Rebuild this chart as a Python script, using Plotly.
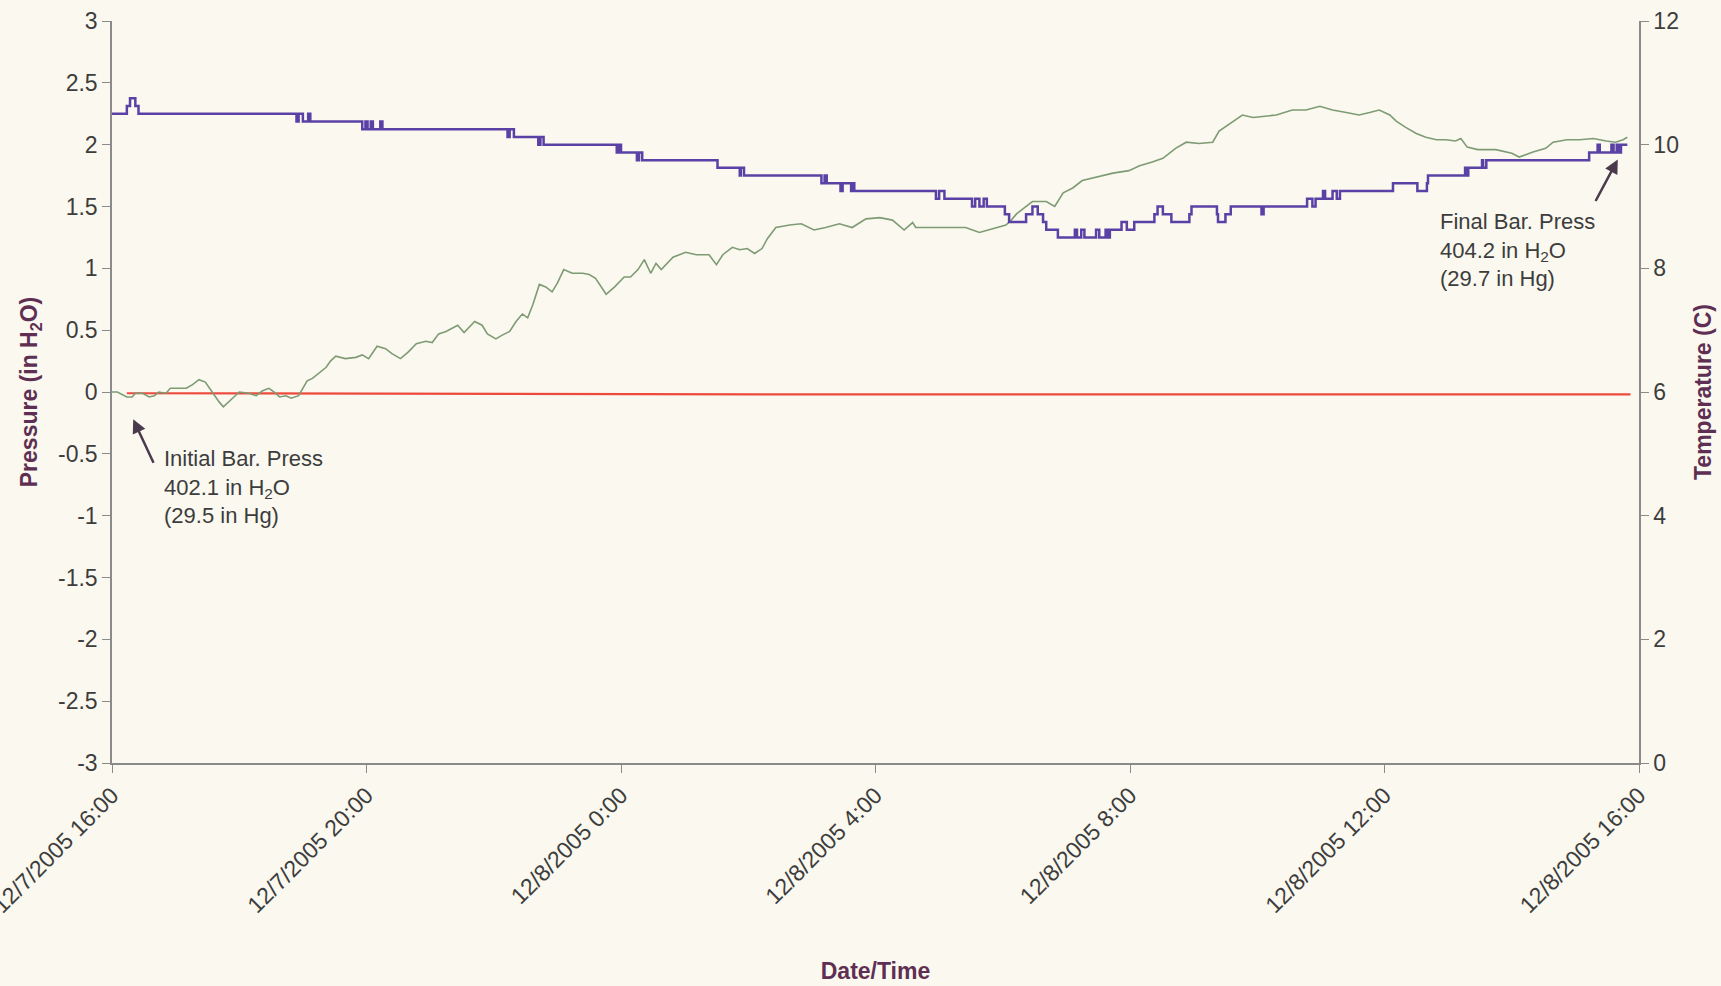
import pandas as pd
import plotly.graph_objects as go

START = pd.Timestamp("2005-12-07 16:00")

# Barometric pressure change from the start of the run (in H2O); minutes since start
baro_minutes = [0, 5, 14, 19, 22, 29, 35, 40, 44, 51, 55, 70, 76, 82, 88, 95, 101, 105, 110, 115,
                120, 129, 136, 142, 148, 153, 158, 164, 169, 176, 180, 184, 189, 195, 202, 206, 211,
                220, 230, 236, 242, 250, 258, 264, 272, 279, 287, 296, 302, 308, 315, 326, 332, 342,
                349, 354, 362, 368, 375, 381, 387, 392, 397, 403, 409, 415, 420, 426, 434, 444, 450,
                456, 461, 466, 474, 483, 489, 496, 502, 508, 513, 518, 529, 541, 551, 563, 570, 576,
                585, 592, 599, 606, 613, 618, 626, 639, 650, 662, 673, 686, 698, 711, 724, 736, 747,
                755, 758, 774, 790, 805, 818, 830, 843, 848, 853, 859, 868, 881, 889, 897, 906, 915,
                931, 944, 959, 969, 981, 991, 1003, 1013, 1025, 1038, 1044, 1057, 1066, 1076, 1088,
                1098, 1113, 1126, 1139, 1151, 1164, 1176, 1186, 1195, 1205, 1211, 1220, 1230, 1239,
                1249, 1258, 1267, 1272, 1278, 1288, 1305, 1320, 1327, 1340, 1352, 1359, 1372, 1384,
                1397, 1409, 1418, 1425, 1429]
baro_change = [0.00, 0.00, -0.04, -0.04, -0.01, -0.01, -0.04, -0.03, 0.00, -0.01, 0.03, 0.03, 0.06,
               0.10, 0.08, -0.01, -0.08, -0.12, -0.08, -0.04, 0.00, -0.01, -0.03, 0.01, 0.03, 0.00,
               -0.04, -0.03, -0.05, -0.03, 0.03, 0.09, 0.11, 0.15, 0.20, 0.25, 0.29, 0.27, 0.28, 0.30,
               0.27, 0.37, 0.35, 0.31, 0.27, 0.32, 0.39, 0.41, 0.40, 0.47, 0.49, 0.54, 0.48, 0.57,
               0.54, 0.47, 0.43, 0.46, 0.49, 0.57, 0.63, 0.60, 0.71, 0.87, 0.85, 0.81, 0.88, 0.99,
               0.96, 0.96, 0.95, 0.92, 0.85, 0.79, 0.85, 0.93, 0.93, 0.99, 1.07, 0.96, 1.04, 0.99,
               1.09, 1.13, 1.11, 1.11, 1.03, 1.11, 1.17, 1.15, 1.16, 1.12, 1.16, 1.24, 1.33, 1.35,
               1.36, 1.31, 1.33, 1.36, 1.33, 1.40, 1.41, 1.39, 1.31, 1.37, 1.33, 1.33, 1.33, 1.33,
               1.29, 1.32, 1.35, 1.39, 1.44, 1.48, 1.54, 1.54, 1.50, 1.61, 1.65, 1.71, 1.74, 1.77,
               1.79, 1.83, 1.86, 1.89, 1.97, 2.02, 2.01, 2.02, 2.11, 2.19, 2.24, 2.22, 2.23, 2.24,
               2.28, 2.28, 2.31, 2.28, 2.26, 2.24, 2.26, 2.28, 2.24, 2.19, 2.14, 2.09, 2.06, 2.04,
               2.04, 2.03, 2.05, 1.98, 1.96, 1.96, 1.93, 1.90, 1.94, 1.97, 2.02, 2.04, 2.04, 2.05,
               2.03, 2.02, 2.04, 2.06]

# Differential pressure across the test section (in H2O)
dp_minutes = [14, 240, 480, 720, 960, 1200, 1432]
dp_values = [-0.01, -0.015, -0.02, -0.02, -0.02, -0.02, -0.02]

# Temperature (C), logged in 1/8 degree steps
temp_minutes = [0, 14, 17, 22, 25, 174, 176, 180, 185, 187, 236, 239, 241, 244, 246, 253, 255,
                373, 375, 379, 402, 404, 407, 476, 478, 480, 495, 497, 500, 571, 592, 593, 596,
                669, 672, 674, 687, 689, 697, 698, 700, 777, 780, 785, 811, 814, 818, 822, 825,
                842, 846, 862, 868, 873, 878, 881, 892, 908, 910, 914, 917, 928, 931, 937, 939,
                941, 952, 957, 964, 983, 986, 991, 999, 1016, 1018, 1042, 1043, 1050, 1055, 1084,
                1086, 1127, 1132, 1135, 1142, 1144, 1151, 1155, 1158, 1208, 1231, 1240, 1241, 1276,
                1277, 1279, 1292, 1293, 1296, 1393, 1401, 1403, 1414, 1416, 1419, 1421, 1423, 1429]
temp_c = [10.5, 10.625, 10.75, 10.625, 10.5, 10.375, 10.5, 10.375, 10.5, 10.375, 10.25, 10.375,
          10.25, 10.375, 10.25, 10.375, 10.25, 10.125, 10.25, 10.125, 10.0, 10.125, 10.0, 9.875,
          10.0, 9.875, 9.75, 9.875, 9.75, 9.625, 9.5, 9.625, 9.5, 9.375, 9.5, 9.375, 9.25, 9.375,
          9.25, 9.375, 9.25, 9.125, 9.25, 9.125, 9.0, 9.125, 9.0, 9.125, 9.0, 8.875, 8.75, 8.875,
          9.0, 8.875, 8.75, 8.625, 8.5, 8.625, 8.5, 8.625, 8.5, 8.625, 8.5, 8.625, 8.5, 8.625,
          8.75, 8.625, 8.75, 8.875, 9.0, 8.875, 8.75, 8.875, 9.0, 8.875, 8.75, 8.875, 9.0, 8.875,
          9.0, 9.125, 9.0, 9.125, 9.25, 9.125, 9.25, 9.125, 9.25, 9.375, 9.25, 9.375, 9.5, 9.625,
          9.5, 9.625, 9.75, 9.625, 9.75, 9.875, 10.0, 9.875, 10.0, 9.875, 10.0, 9.875, 10.0, 10.0]

# Axis ticks
x_tick_hours = [0, 4, 8, 12, 16, 20, 24]
x_tick_text = ["12/7/2005 16:00", "12/7/2005 20:00", "12/8/2005 0:00", "12/8/2005 4:00",
               "12/8/2005 8:00", "12/8/2005 12:00", "12/8/2005 16:00"]
p_ticks = [3, 2.5, 2, 1.5, 1, 0.5, 0, -0.5, -1, -1.5, -2, -2.5, -3]
p_tick_text = ["3", "2.5", "2", "1.5", "1", "0.5", "0", "-0.5", "-1", "-1.5", "-2", "-2.5", "-3"]
t_ticks = [0, 2, 4, 6, 8, 10, 12]


def stamp(minutes):
    return START + pd.to_timedelta(pd.Series(minutes, dtype=float), unit="min")


BG = "#faf8ef"
AXIS = "#8a8a8a"
TICK_FONT = dict(family="Liberation Sans, Arial, sans-serif", size=23, color="#3d3d3d")
TITLE_FONT = dict(family="Liberation Sans, Arial, sans-serif", size=23, color="#5e2f52")
NOTE_FONT = dict(family="Liberation Sans, Arial, sans-serif", size=22, color="#3d3d3d")
ARROW = "#4b3a4d"

fig = go.Figure()
fig.add_trace(go.Scatter(x=stamp(temp_minutes), y=temp_c, yaxis="y2", mode="lines",
                         line=dict(color="#5a41a5", width=2.5, shape="hv"),
                         name="Temperature", showlegend=False))
fig.add_trace(go.Scatter(x=stamp(dp_minutes), y=dp_values, mode="lines",
                         line=dict(color="#ee4a3c", width=2.2),
                         name="Differential pressure", showlegend=False))
fig.add_trace(go.Scatter(x=stamp(baro_minutes), y=baro_change, mode="lines",
                         line=dict(color="#7e9b74", width=1.6),
                         name="Barometric change", showlegend=False))

x_tickvals = [START + pd.Timedelta(hours=h) for h in x_tick_hours]

fig.update_layout(
    width=1721, height=986, autosize=False,
    margin=dict(l=112, r=82, t=21, b=223),
    paper_bgcolor=BG, plot_bgcolor=BG,
    showlegend=False,
    xaxis=dict(
        type="date", range=[x_tickvals[0], x_tickvals[-1]],
        tickvals=x_tickvals, ticktext=x_tick_text, tickangle=-45,
        ticklabeloverflow="allow",
        ticks="outside", ticklen=8, tickwidth=1.2, tickcolor=AXIS,
        showline=True, linecolor=AXIS, linewidth=1.5,
        showgrid=False, zeroline=False, automargin=False,
        tickfont=TICK_FONT,
        title=dict(text="<b>Date/Time</b>", font=TITLE_FONT, standoff=46),
    ),
    yaxis=dict(
        range=[-3, 3], tickvals=p_ticks, ticktext=p_tick_text,
        ticks="outside", ticklen=8, tickwidth=1.2, tickcolor=AXIS,
        showline=True, linecolor=AXIS, linewidth=1.5,
        showgrid=False, zeroline=False, automargin=False,
        tickfont=TICK_FONT,
        title=dict(text="<b>Pressure (in H<sub>2</sub>O)</b>", font=TITLE_FONT, standoff=14),
    ),
    yaxis2=dict(
        overlaying="y", side="right", range=[0, 12], tickvals=t_ticks,
        ticks="outside", ticklen=8, tickwidth=1.2, tickcolor=AXIS,
        showline=True, linecolor=AXIS, linewidth=1.5,
        showgrid=False, zeroline=False, automargin=False,
        tickfont=TICK_FONT,
        title=dict(text="<b>Temperature (C)</b>", font=TITLE_FONT, standoff=17),
    ),
)

# Arrows pointing at the start and end of the barometric record
fig.add_annotation(x=START + pd.Timedelta(minutes=20), y=-0.22, xref="x", yref="y",
                   text="", showarrow=True, axref="pixel", ayref="pixel", ax=21, ay=45,
                   arrowhead=2, arrowsize=1.1, arrowwidth=2.5, arrowcolor=ARROW,
                   standoff=0, startstandoff=0)
fig.add_annotation(x=START + pd.Timedelta(minutes=1420), y=1.88, xref="x", yref="y",
                   text="", showarrow=True, axref="pixel", ayref="pixel", ax=-23, ay=43,
                   arrowhead=2, arrowsize=1.1, arrowwidth=2.5, arrowcolor=ARROW,
                   standoff=0, startstandoff=0)

fig.add_annotation(x=START + pd.Timedelta(minutes=47), y=-0.42, xref="x", yref="y",
                   text="Initial Bar. Press<br>402.1 in H<sub>2</sub>O<br>(29.5 in Hg)",
                   showarrow=False, xanchor="left", yanchor="top", align="left", font=NOTE_FONT)
fig.add_annotation(x=START + pd.Timedelta(minutes=1250), y=1.50, xref="x", yref="y",
                   text="Final Bar. Press<br>404.2 in H<sub>2</sub>O<br>(29.7 in Hg)",
                   showarrow=False, xanchor="left", yanchor="top", align="left", font=NOTE_FONT)

fig.write_html("out.html")
